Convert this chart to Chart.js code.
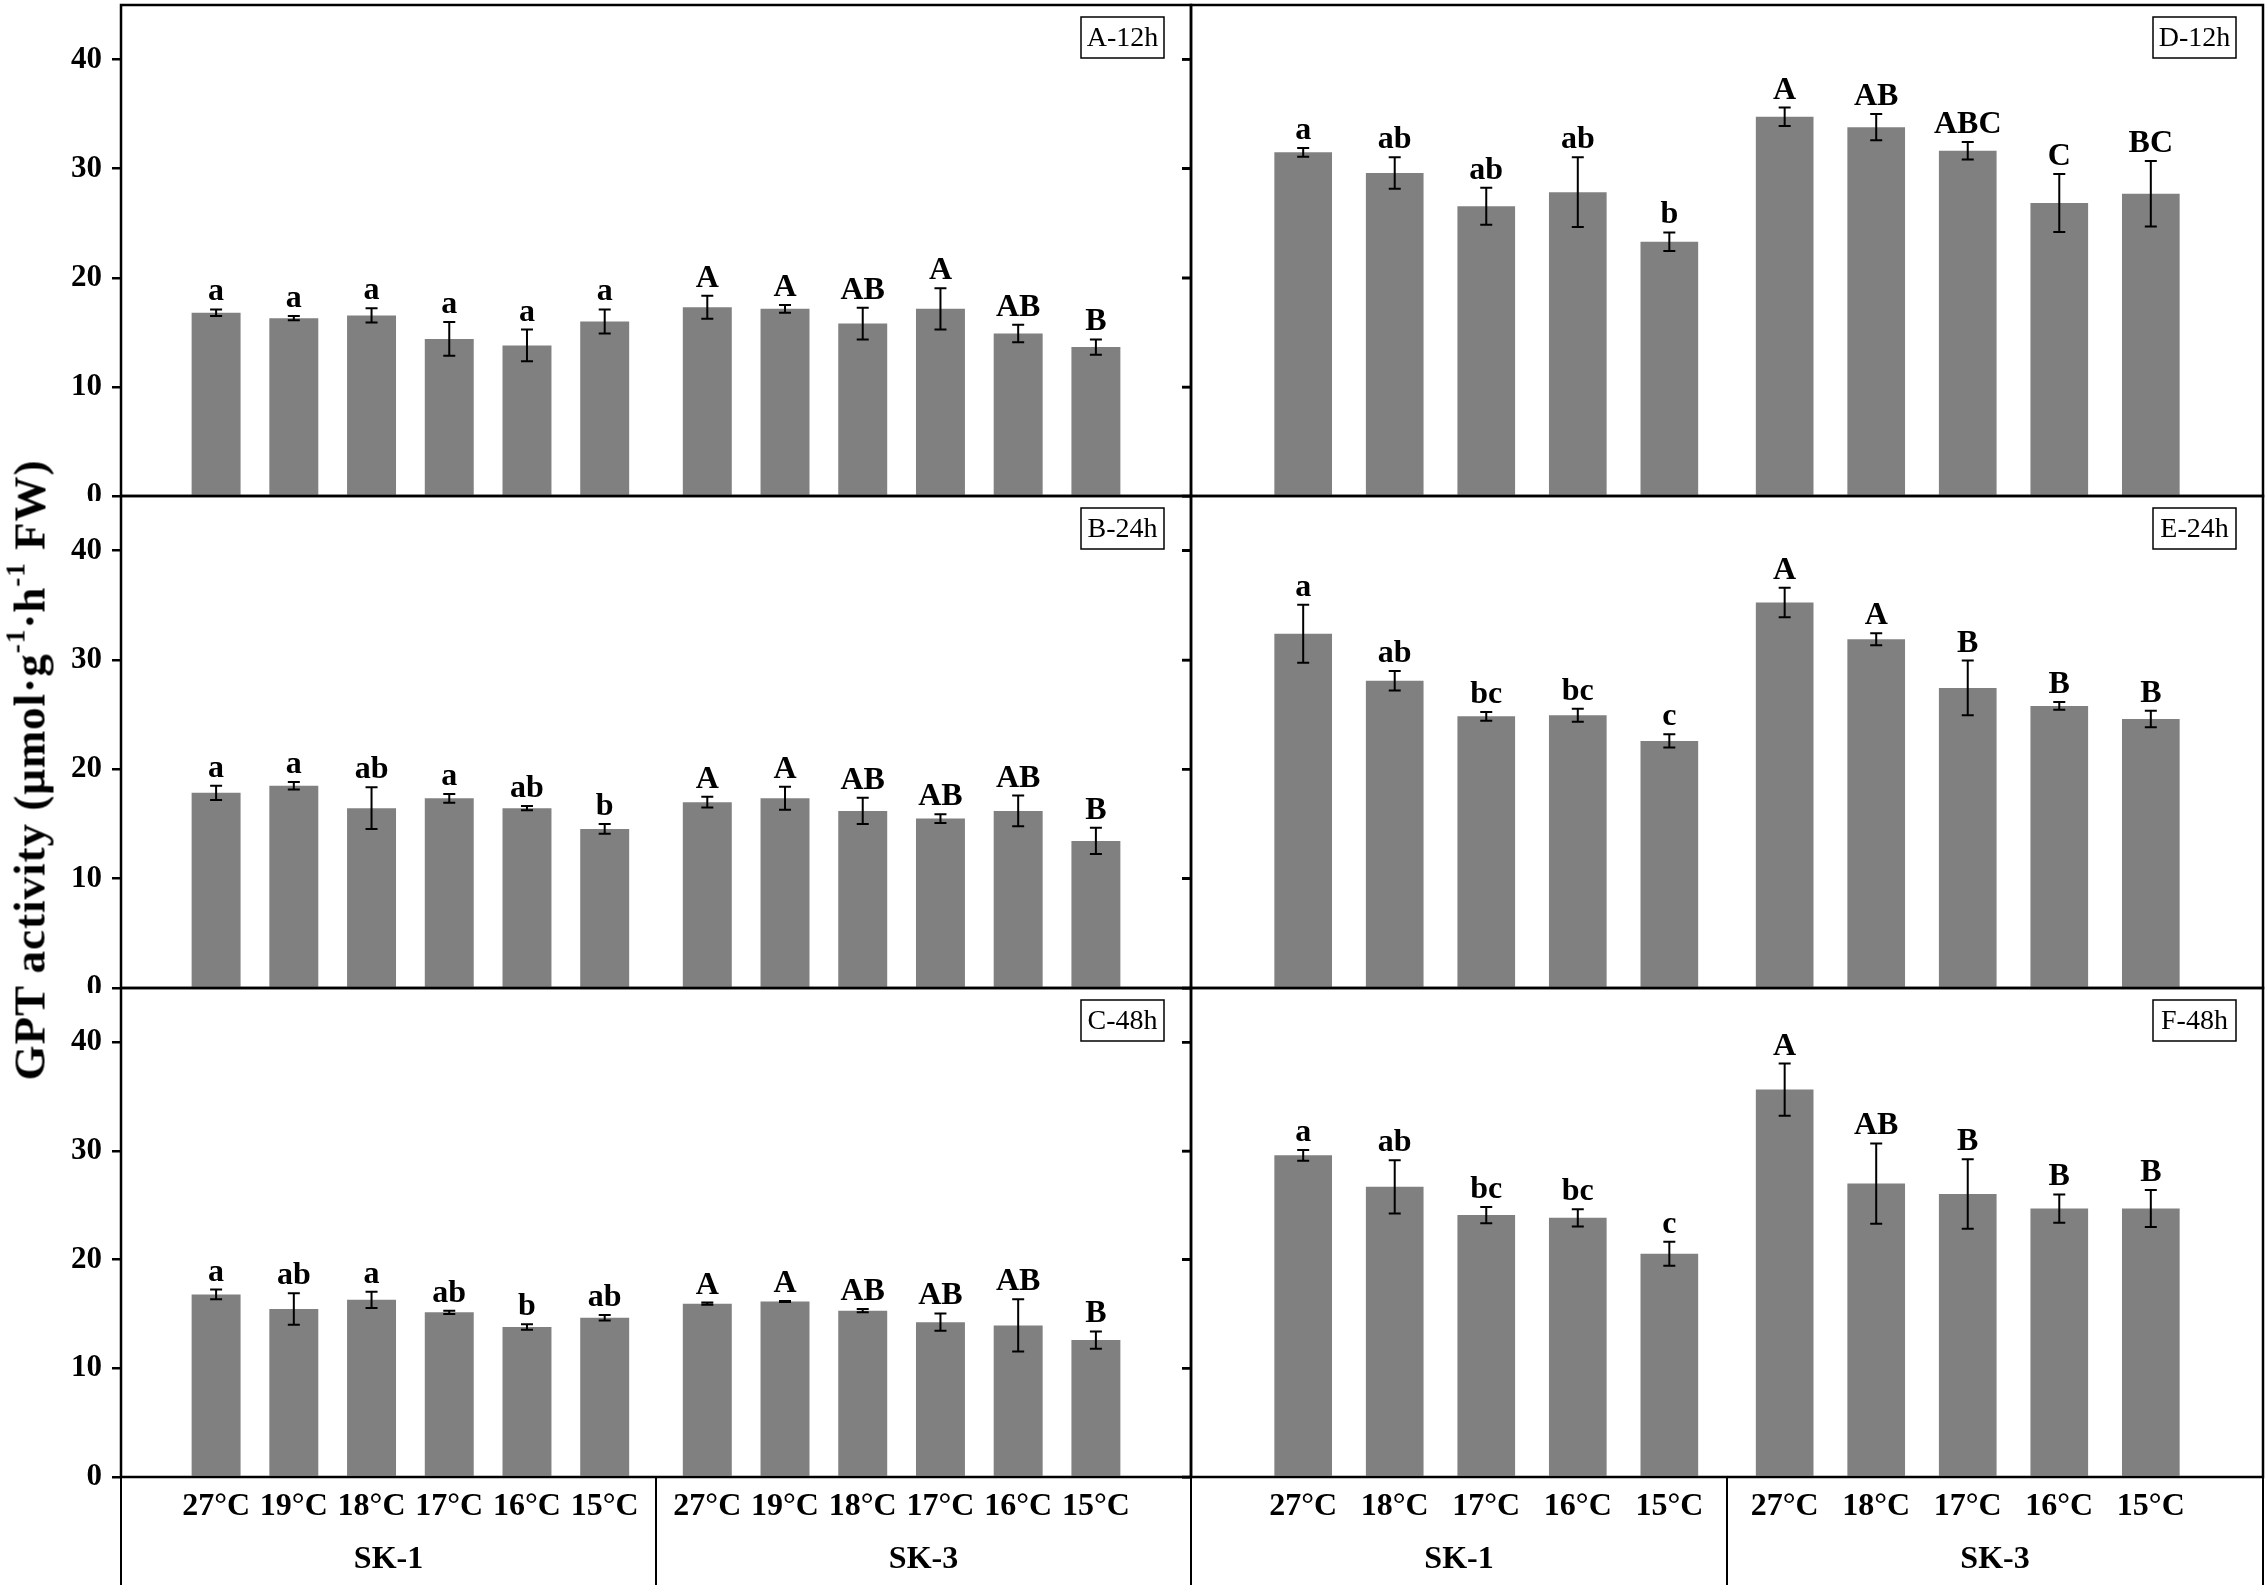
<!DOCTYPE html>
<html>
<head>
<meta charset="utf-8">
<script src="https://cdn.jsdelivr.net/npm/chart.js@4.4.1/dist/chart.umd.min.js"></script>
<style>
  html, body { margin: 0; padding: 0; background: #fff; }
  #wrap { position: relative; width: 2268px; height: 1590px; overflow: hidden; background: #fff; }
  canvas { position: absolute; }
  #ytitle {
    position: absolute; left: 30px; top: 770px;
    transform: translate(-50%, -50%) rotate(-90deg);
    font: bold 45px "Liberation Serif", "Times New Roman", serif;
    letter-spacing: 1px;
    white-space: nowrap; line-height: 1;
  }
  #ytitle sup { font-size: 0.6em; vertical-align: 0.75em; line-height: 0; }
</style>
</head>
<body>
<div id="wrap">
  <canvas id="cA"></canvas>
  <canvas id="cB"></canvas>
  <canvas id="cC"></canvas>
  <canvas id="cD"></canvas>
  <canvas id="cE"></canvas>
  <canvas id="cF"></canvas>
  <div id="ytitle">GPT activity (μmol·g<sup>-1</sup>·h<sup>-1</sup> FW)</div>
</div>
<script>
// categories
const leftTemps = ["27°C", "19°C", "18°C", "17°C", "16°C", "15°C"];
const rightTemps = ["27°C", "18°C", "17°C", "16°C", "15°C"];
const groupNames = ["SK-1", "SK-3"];
const yTicks = [0, 10, 20, 30, 40];
const yMax = 45;

// A-12h
const valA = [16.8, 16.3, 16.55, 14.4, 13.8, 16.0, 17.3, 17.15, 15.8, 17.15, 14.9, 13.65];
const errA = [0.3, 0.2, 0.65, 1.55, 1.45, 1.1, 1.05, 0.35, 1.45, 1.9, 0.8, 0.7];
const letA = ["a", "a", "a", "a", "a", "a", "A", "A", "AB", "A", "AB", "B"];
// B-24h
const valB = [17.85, 18.5, 16.45, 17.35, 16.45, 14.55, 17.0, 17.35, 16.2, 15.5, 16.2, 13.45];
const errB = [0.65, 0.35, 1.9, 0.4, 0.2, 0.45, 0.5, 1.05, 1.2, 0.4, 1.4, 1.2];
const letB = ["a", "a", "ab", "a", "ab", "b", "A", "A", "AB", "AB", "AB", "B"];
// C-48h
const valC = [16.8, 15.45, 16.3, 15.15, 13.8, 14.65, 15.95, 16.15, 15.3, 14.25, 13.95, 12.6];
const errC = [0.45, 1.45, 0.75, 0.15, 0.25, 0.25, 0.1, 0.05, 0.15, 0.8, 2.4, 0.8];
const letC = ["a", "ab", "a", "ab", "b", "ab", "A", "A", "AB", "AB", "AB", "B"];
// D-12h
const valD = [31.5, 29.6, 26.55, 27.85, 23.3, 34.75, 33.8, 31.65, 26.85, 27.7];
const errD = [0.4, 1.45, 1.7, 3.2, 0.85, 0.85, 1.2, 0.8, 2.65, 3.0];
const letD = ["a", "ab", "ab", "ab", "b", "A", "AB", "ABC", "C", "BC"];
// E-24h
const valE = [32.4, 28.1, 24.85, 24.95, 22.6, 35.25, 31.9, 27.45, 25.8, 24.6];
const errE = [2.65, 0.9, 0.4, 0.6, 0.6, 1.35, 0.55, 2.5, 0.35, 0.75];
const letE = ["a", "ab", "bc", "bc", "c", "A", "A", "B", "B", "B"];
// F-48h
const valF = [29.6, 26.7, 24.1, 23.85, 20.55, 35.65, 27.0, 26.05, 24.7, 24.7];
const errF = [0.5, 2.45, 0.75, 0.8, 1.1, 2.4, 3.7, 3.2, 1.3, 1.7];
const letF = ["a", "ab", "bc", "bc", "c", "A", "AB", "B", "B", "B"];

const FONT = '"Liberation Serif", "Times New Roman", serif';
Chart.defaults.font.family = FONT;
Chart.defaults.color = "#000";

// bar slots: two groups with a little extra space between them
function slots(n, gap) {
  const p = [];
  for (let g = 0; g < 2; g++) {
    for (let j = 0; j < n; j++) p.push(g * (n + gap) + j);
  }
  return p;
}

function deco(panel) {
  return {
    id: "deco",
    afterDatasetsDraw(chart) {
      const ctx = chart.ctx;
      const ys = chart.scales.y;
      const meta = chart.getDatasetMeta(0);
      ctx.save();
      ctx.strokeStyle = "#000";
      ctx.fillStyle = "#000";
      ctx.lineWidth = 2;
      ctx.font = "bold 32px " + FONT;
      ctx.textAlign = "center";
      ctx.textBaseline = "alphabetic";
      meta.data.forEach((bar, i) => {
        const v = panel.values[i], e = panel.errors[i];
        const top = ys.getPixelForValue(v + e);
        const bot = ys.getPixelForValue(v - e);
        ctx.beginPath();
        ctx.moveTo(bar.x, top); ctx.lineTo(bar.x, bot);
        ctx.moveTo(bar.x - 6, top); ctx.lineTo(bar.x + 6, top);
        ctx.moveTo(bar.x - 6, bot); ctx.lineTo(bar.x + 6, bot);
        ctx.stroke();
        ctx.fillText(panel.letters[i], bar.x, top - 9);
      });
      ctx.restore();
    },
    afterDraw(chart) {
      const ctx = chart.ctx;
      const a = chart.chartArea;
      const ys = chart.scales.y;
      const xs = chart.scales.x;
      ctx.save();
      ctx.strokeStyle = "#000";
      ctx.fillStyle = "#000";
      ctx.lineWidth = 2.5;
      ctx.strokeRect(a.left, a.top, a.right - a.left, a.bottom - a.top);
      if (panel.innerTicks) {
        ctx.beginPath();
        yTicks.forEach(t => {
          const y = ys.getPixelForValue(t);
          ctx.moveTo(a.right - 9, y);
          ctx.lineTo(a.right, y);
        });
        ctx.stroke();
      }
      // panel tag
      const bw = 83, bh = 41;
      const bx = a.right - 27 - bw, by = a.top + 12;
      ctx.lineWidth = 1.5;
      ctx.strokeRect(bx, by, bw, bh);
      ctx.font = "28px " + FONT;
      ctx.textAlign = "center";
      ctx.textBaseline = "middle";
      ctx.fillText(panel.tag, bx + bw / 2, by + bh / 2 + 1);
      // group axis below the bottom panels
      if (panel.showX) {
        const n = panel.pos.length / 2;
        const sep = xs.getPixelForValue((panel.pos[n - 1] + panel.pos[n]) / 2);
        const xsLines = [a.left, sep, a.right];
        ctx.lineWidth = 2;
        ctx.beginPath();
        xsLines.forEach(x => { ctx.moveTo(x, a.bottom); ctx.lineTo(x, a.bottom + 108); });
        ctx.stroke();
        ctx.font = "bold 32px " + FONT;
        ctx.textBaseline = "middle";
        ctx.fillText(groupNames[0], (a.left + sep) / 2, a.bottom + 83);
        ctx.fillText(groupNames[1], (sep + a.right) / 2, a.bottom + 83);
      }
      ctx.restore();
    }
  };
}

function makePanel(p) {
  const canvas = document.getElementById(p.id);
  canvas.width = p.w; canvas.height = p.h;
  canvas.style.left = p.left + "px";
  canvas.style.top = p.top + "px";
  canvas.style.width = p.w + "px";
  canvas.style.height = p.h + "px";
  const n = p.temps.length;
  p.pos = slots(n, p.gap);
  const labels = p.temps.concat(p.temps);
  const last = p.pos[p.pos.length - 1];
  new Chart(canvas, {
    type: "bar",
    data: {
      datasets: [{
        data: p.pos.map((x, i) => ({ x: x, y: p.values[i] })),
        backgroundColor: "#808080",
        borderWidth: 0,
        categoryPercentage: 1,
        barPercentage: 0.63
      }]
    },
    options: {
      responsive: false,
      animation: false,
      devicePixelRatio: 1,
      layout: { padding: p.padding },
      plugins: { legend: { display: false }, tooltip: { enabled: false } },
      scales: {
        x: {
          type: "linear",
          min: -p.edge,
          max: last + p.edge,
          display: p.showX,
          grid: { display: false, drawTicks: false },
          border: { display: false },
          afterBuildTicks: s => { s.ticks = p.pos.map(v => ({ value: v })); },
          ticks: {
            autoSkip: false, maxRotation: 0, minRotation: 0, padding: 11,
            font: { size: 32, weight: "bold" },
            callback: (v, i) => labels[i]
          },
          afterFit: s => {
            s.height = p.showX ? 113 : 0;
            s.paddingLeft = 0; s.paddingRight = 0;
          }
        },
        y: {
          min: 0,
          max: yMax,
          afterBuildTicks: s => { s.ticks = yTicks.map(v => ({ value: v })); },
          ticks: { display: p.yLabels, padding: 10, font: { size: 31, weight: "bold" } },
          grid: { drawOnChartArea: false, tickLength: 9, lineWidth: 2.5, color: "#000" },
          border: { display: false },
          afterFit: s => {
            s.width = p.yLabels ? 121 : 9;
            s.paddingTop = 0; s.paddingBottom = 0;
          }
        }
      }
    },
    plugins: [deco(p)]
  });
}

const leftCol = { left: 0, w: 1200, temps: leftTemps, gap: 0.32, edge: 0.65, yLabels: true, innerTicks: true,
                  pad: { left: 0, right: 9 } };
const rightCol = { left: 1182, w: 1086, temps: rightTemps, gap: 0.26, edge: 0.64, yLabels: false, innerTicks: false,
                   pad: { left: 0, right: 5 } };
const rows = [
  { top: 0, h: 501, padTop: 5, padBottom: 5, showX: false },
  { top: 491, h: 502, padTop: 5, padBottom: 5, showX: false },
  { top: 983, h: 607, padTop: 5, padBottom: 0, showX: true }
];
const panels = [
  { id: "cA", col: leftCol, row: rows[0], tag: "A-12h", values: valA, errors: errA, letters: letA },
  { id: "cB", col: leftCol, row: rows[1], tag: "B-24h", values: valB, errors: errB, letters: letB },
  { id: "cC", col: leftCol, row: rows[2], tag: "C-48h", values: valC, errors: errC, letters: letC },
  { id: "cD", col: rightCol, row: rows[0], tag: "D-12h", values: valD, errors: errD, letters: letD },
  { id: "cE", col: rightCol, row: rows[1], tag: "E-24h", values: valE, errors: errE, letters: letE },
  { id: "cF", col: rightCol, row: rows[2], tag: "F-48h", values: valF, errors: errF, letters: letF }
];

panels.forEach(q => {
  makePanel({
    id: q.id, tag: q.tag, values: q.values, errors: q.errors, letters: q.letters,
    left: q.col.left, w: q.col.w, top: q.row.top, h: q.row.h,
    temps: q.col.temps, gap: q.col.gap, edge: q.col.edge,
    yLabels: q.col.yLabels, innerTicks: q.col.innerTicks, showX: q.row.showX,
    padding: { left: q.col.pad.left, right: q.col.pad.right, top: q.row.padTop, bottom: q.row.padBottom }
  });
});
</script>
</body>
</html>
